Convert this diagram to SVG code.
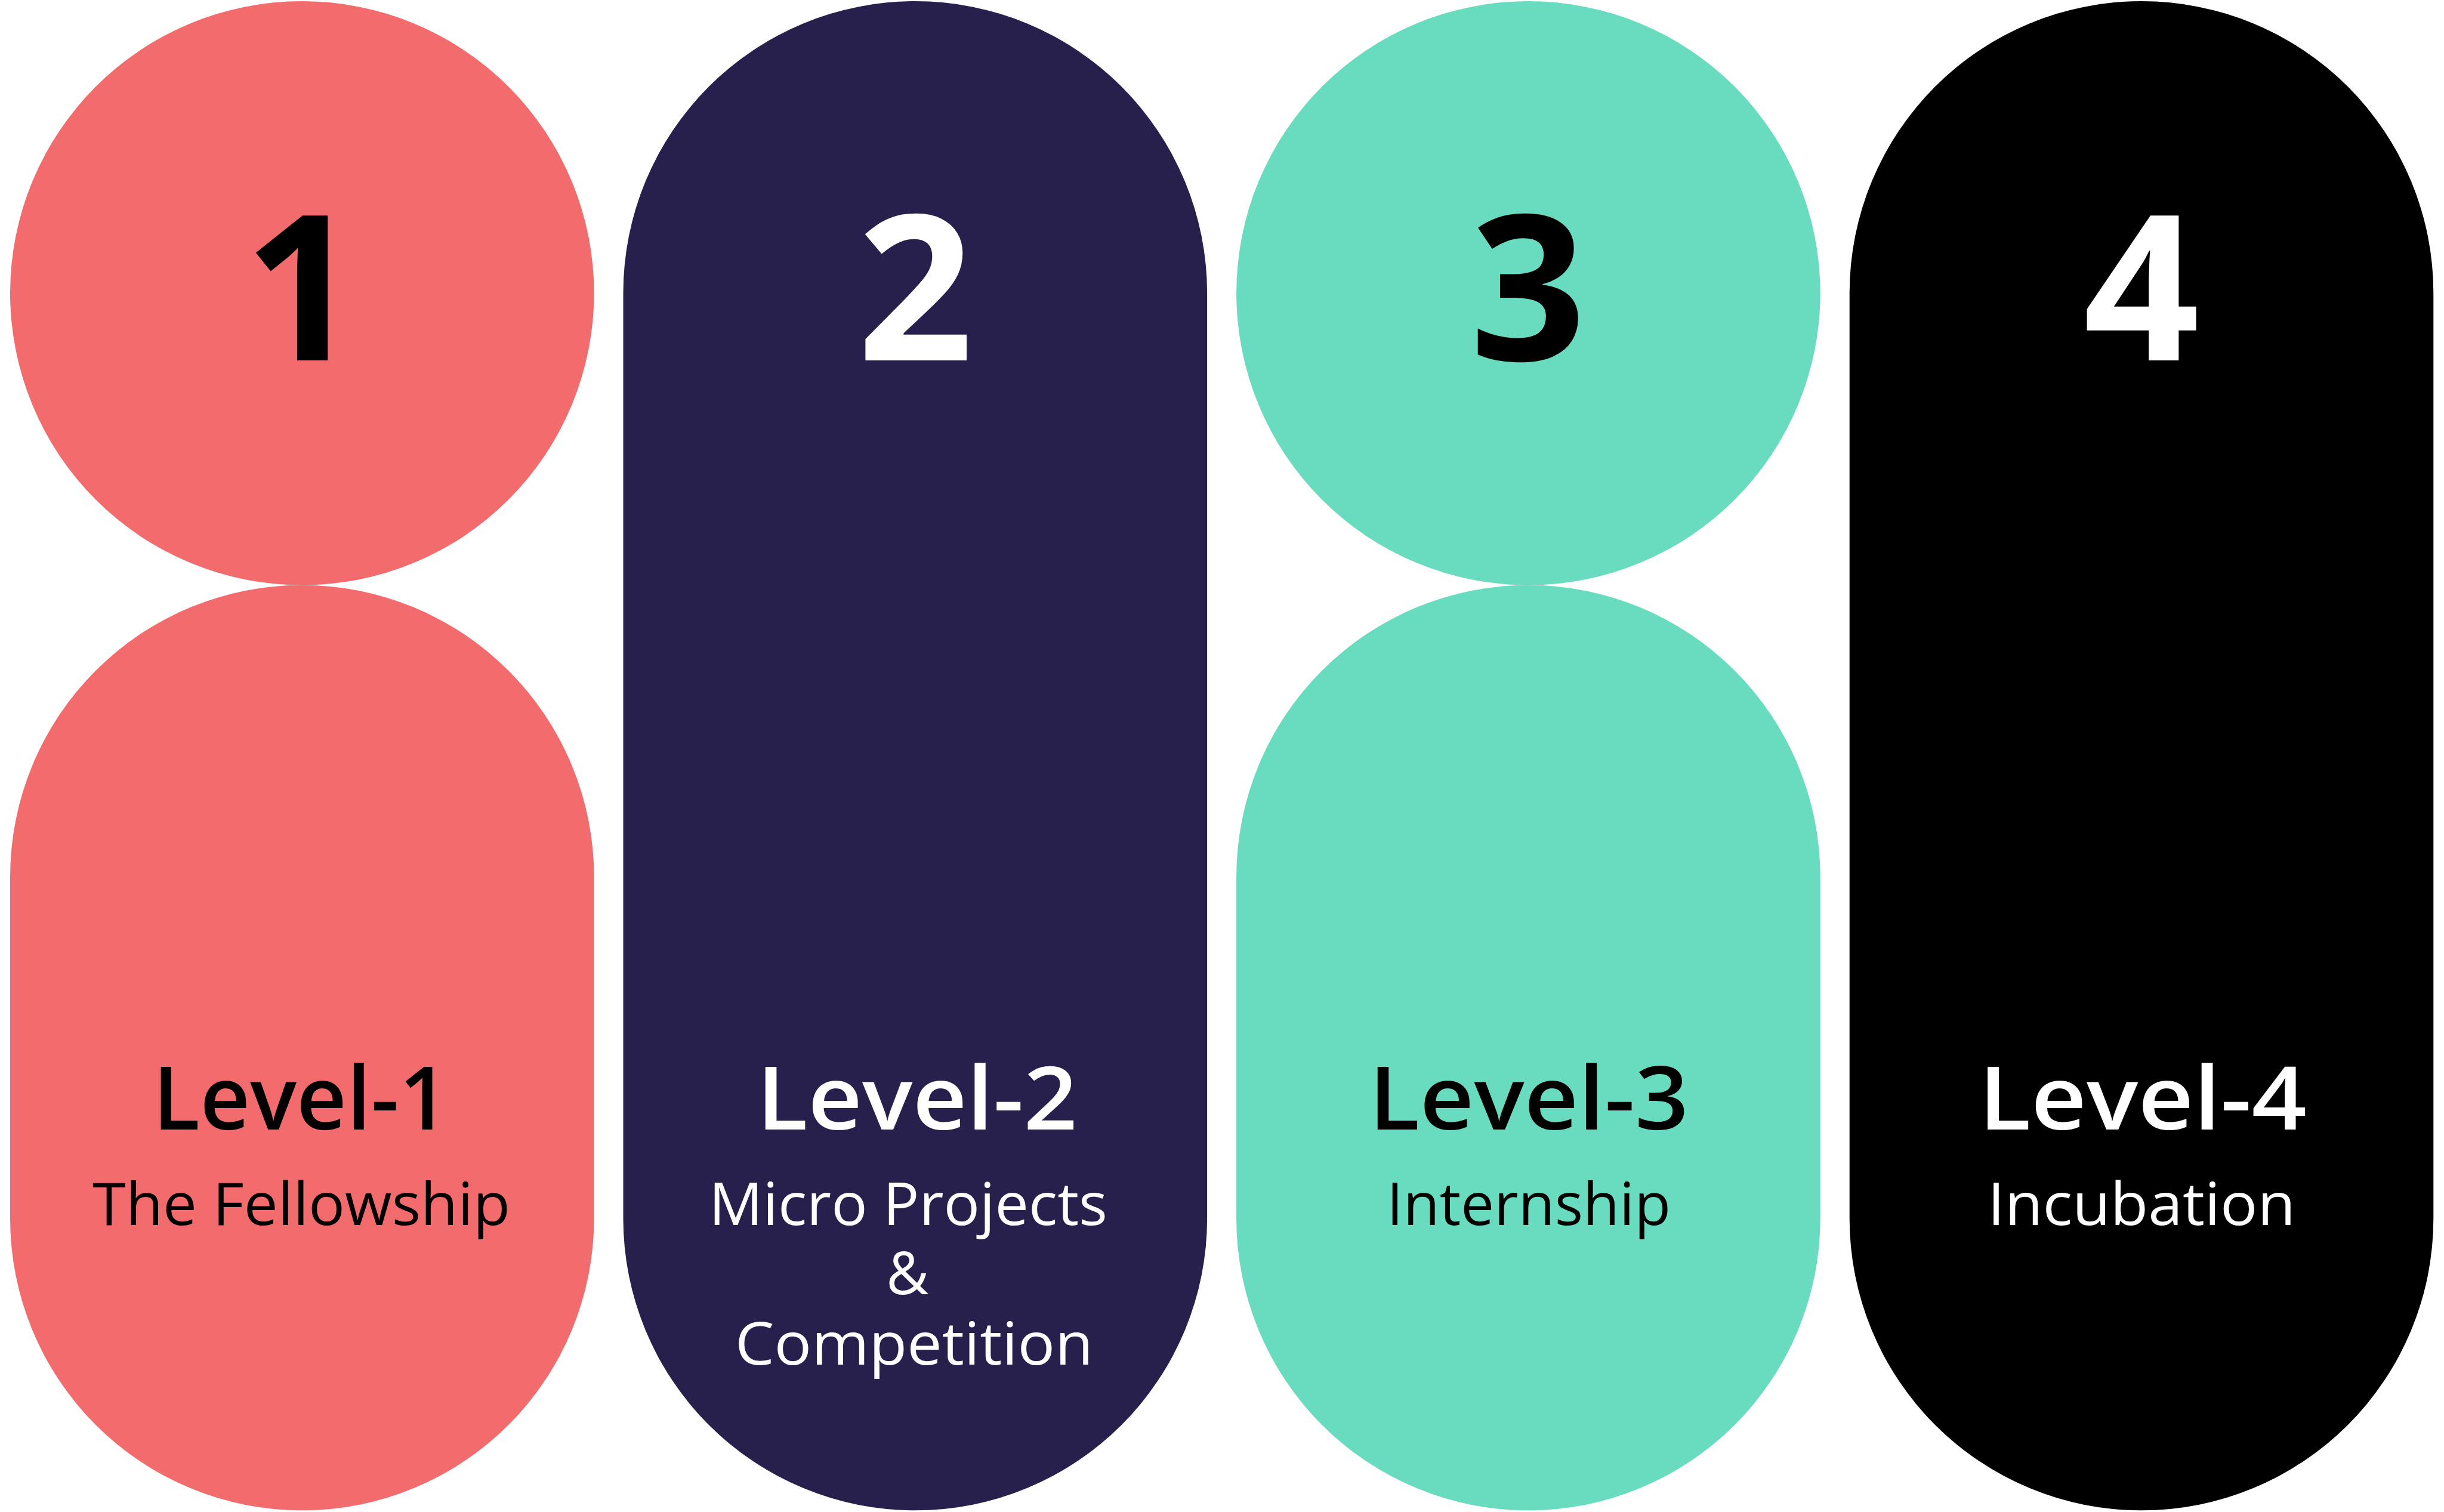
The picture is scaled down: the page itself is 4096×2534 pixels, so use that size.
<svg xmlns="http://www.w3.org/2000/svg" width="4096" height="2534" viewBox="0 0 4096 2534">
<style>
.num{font-family:"Open Sans","Liberation Sans",sans-serif;font-weight:700;font-size:340px;text-anchor:middle}
.title{font-family:"Open Sans","Liberation Sans",sans-serif;font-weight:600;font-size:146px;text-anchor:middle}
.sub{font-family:"Open Sans","Liberation Sans",sans-serif;font-weight:400;font-size:98px;text-anchor:middle}
.dark{fill:#000000}
.light{fill:#FFFFFF}
.coral{fill:#F36C6D}
.navy{fill:#27204C}
.mint{fill:#69DBBE}
.black{fill:#000000}
</style>
<rect width="4096" height="2534" fill="#FFFFFF"/>
<g id="level-1">
<circle class="coral" cx="506.3" cy="491.3" r="489.3"/>
<rect class="coral" x="17" y="980.6" width="978.6" height="1550.7" rx="489.3" ry="489.3"/>
<text class="num dark" x="506" y="604">1</text>
<text class="title dark" x="504" y="1893" textLength="496" lengthAdjust="spacingAndGlyphs">Level-1</text>
<text class="sub dark" x="505" y="2053" textLength="700" lengthAdjust="spacingAndGlyphs">The Fellowship</text>
</g>
<g id="level-2">
<rect class="navy" x="1044.5" y="2" width="978.6" height="2529.3" rx="489.3" ry="489.3"/>
<text class="num light" x="1534" y="604">2</text>
<text class="title light" x="1537" y="1893" textLength="538" lengthAdjust="spacingAndGlyphs">Level-2</text>
<text class="sub light" x="1522" y="2053" textLength="668" lengthAdjust="spacingAndGlyphs">Micro Projects</text>
<text class="sub light" x="1521" y="2169">&amp;</text>
<text class="sub light" x="1532" y="2287" textLength="600" lengthAdjust="spacingAndGlyphs">Competition</text>
</g>
<g id="level-3">
<circle class="mint" cx="2561.4" cy="491.3" r="489.3"/>
<rect class="mint" x="2072.1" y="980.6" width="978.6" height="1550.7" rx="489.3" ry="489.3"/>
<text class="num dark" x="2561" y="604">3</text>
<text class="title dark" x="2562" y="1893" textLength="536" lengthAdjust="spacingAndGlyphs">Level-3</text>
<text class="sub dark" x="2562" y="2053" textLength="476" lengthAdjust="spacingAndGlyphs">Internship</text>
</g>
<g id="level-4">
<rect class="black" x="3099.7" y="2" width="978.6" height="2529.3" rx="489.3" ry="489.3"/>
<text class="num light" x="3589" y="604">4</text>
<text class="title light" x="3591" y="1893" textLength="550" lengthAdjust="spacingAndGlyphs">Level-4</text>
<text class="sub light" x="3589" y="2053" textLength="516" lengthAdjust="spacingAndGlyphs">Incubation</text>
</g>
<g id="connectors"/>
</svg>
